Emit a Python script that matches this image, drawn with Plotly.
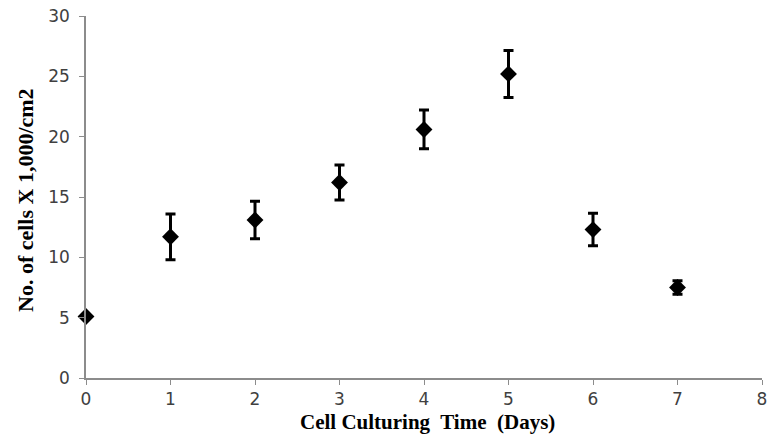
import plotly.graph_objects as go

days = [0, 1, 2, 3, 4, 5, 6, 7]
cells = [5.1, 11.7, 13.1, 16.2, 20.6, 25.2, 12.3, 7.5]
errors = [0.0, 1.9, 1.55, 1.45, 1.6, 1.95, 1.35, 0.55]
x_ticks = [0, 1, 2, 3, 4, 5, 6, 7, 8]
y_ticks = [0, 5, 10, 15, 20, 25, 30]
x_title = "Cell Culturing  Time  (Days)"
y_title = "No. of cells X 1,000/cm2"

W, H = 769, 438
L, R, T, B = 86, 7, 16, 60

fig = go.Figure()
fig.add_trace(go.Scatter(
    x=days, y=cells, mode="markers",
    marker=dict(symbol="diamond", size=13, color="black"),
    error_y=dict(type="data", array=errors, visible=True,
                 color="black", thickness=3, width=5),
    showlegend=False, cliponaxis=False,
))

axis_common = dict(
    showgrid=False, zeroline=False, showline=True, linecolor="#8c8c8c",
    linewidth=1.5, ticks="outside", ticklen=5, tickcolor="#8c8c8c",
    tickfont=dict(family="DejaVu Sans", size=17, color="#404040"),
    automargin=False,
)
fig.update_layout(
    width=W, height=H,
    margin=dict(l=L, r=R, t=T, b=B),
    paper_bgcolor="white", plot_bgcolor="white",
    xaxis=dict(range=[0, 8], tickvals=x_ticks, **axis_common),
    yaxis=dict(range=[0, 30], tickvals=y_ticks, ticklabelstandoff=6, **axis_common),
    annotations=[
        dict(text="<b>" + x_title + "</b>", xref="paper", yref="paper",
             x=(427 - L) / (W - L - R), y=-(422 - (H - B)) / (H - T - B),
             xanchor="center", yanchor="middle", showarrow=False,
             font=dict(family="Liberation Serif", size=21, color="black")),
        dict(text="<b>" + y_title + "</b>", xref="paper", yref="paper",
             x=-(L - 25) / (W - L - R), y=((H - B) - 200) / (H - T - B),
             xanchor="center", yanchor="middle", textangle=-90, showarrow=False,
             font=dict(family="Liberation Serif", size=22, color="black")),
    ],
)
fig.write_html("out.html", config={"displayModeBar": False},
               post_script="document.body.style.margin='0';document.body.style.padding='0';")
